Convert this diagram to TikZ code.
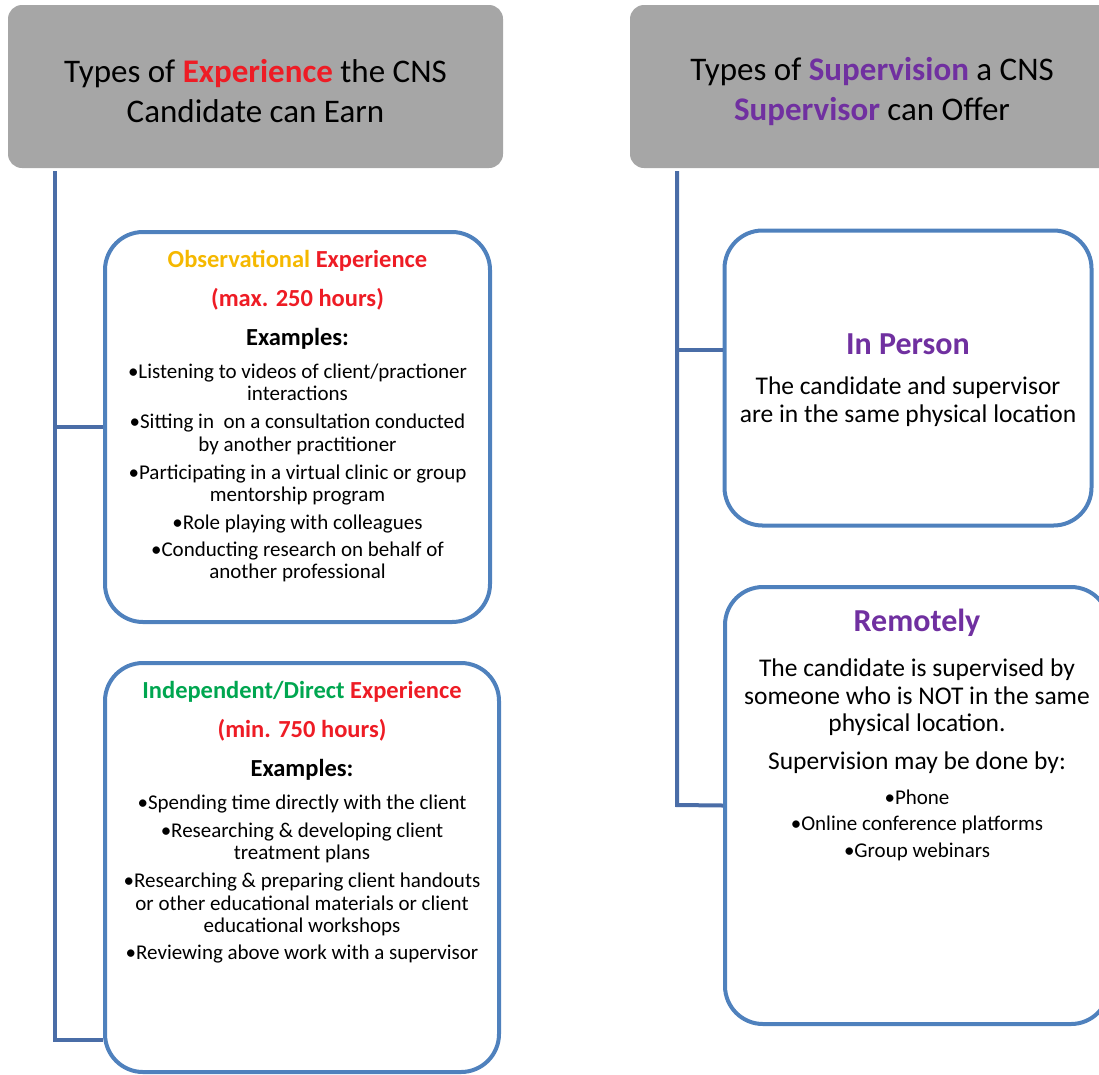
\documentclass[tikz,border=0pt]{standalone}
\usepackage{fontspec}
\setmainfont{Carlito}
\usetikzlibrary{positioning}

\definecolor{hdgray}{HTML}{A6A6A6}
\definecolor{boxblue}{HTML}{4F81BD}
\definecolor{linkblue}{HTML}{4A6DA7}
\definecolor{expred}{HTML}{EE1C25}
\definecolor{obsgold}{HTML}{F5B800}
\definecolor{indgreen}{HTML}{00A650}
\definecolor{supurple}{HTML}{7030A0}

\tikzset{
  hdbox/.style={fill=hdgray, rounded corners=14pt, minimum width=495pt,
    minimum height=163pt, inner sep=0pt},
  hdtxt/.style={align=center, inner sep=0pt, yshift=-5pt,
    font=\fontsize{33}{40}\selectfont},
  exbox/.style={draw=boxblue, line width=4pt, rounded corners=38pt, inner sep=0pt},
  link/.style={draw=linkblue, line width=4pt},
  headtxt/.style={align=center, inner sep=0pt, font=\fontsize{24.5}{39}\selectfont\bfseries},
  listtxt/.style={align=center, inner sep=0pt, font=\fontsize{21}{22.5}\selectfont},
  bigtxt/.style={align=center, inner sep=0pt, font=\fontsize{32}{36}\selectfont\bfseries, text=supurple},
  bodytxt/.style={align=center, inner sep=0pt, font=\fontsize{25.5}{27.5}\selectfont},
}

\begin{document}
\begin{tikzpicture}[x=1pt,y=-1pt]
  \useasboundingbox (0,0) rectangle (1099,1074);
  \clip (0,0) rectangle (1099,1074);

  % headers
  \node[hdbox] (hdL) at (255.5,86.5) {};
  \node[hdtxt] (hdLT) at (hdL.center)
    {Types of \textbf{\color{expred}Experience} the CNS\\Candidate can Earn};
  \node[hdbox, minimum width=484pt] (hdR) at (872,86.5) {};
  \node[hdtxt] (hdRT) at (hdR.center)
    {Types of \textbf{\color{supurple}Supervision} a CNS\\\textbf{\color{supurple}Supervisor} can Offer};

  % experience boxes
  \node[exbox, minimum width=385pt, minimum height=390pt] (obs) at (297.5,427) {};
  \node[headtxt, below=20pt of obs.north] (obsH)
    {{\color{obsgold}Observational} {\color{expred}Experience}\\
     {\color{expred}(max. 250 hours)}\\Examples:};
  \node[listtxt, below=14pt of obsH] (obsL)
    {•Listening to videos of client/practioner\\interactions\\[5.5pt]
     •Sitting in\ \ on a consultation conducted\\by another practitioner\\[5.5pt]
     •Participating in a virtual clinic or group\\mentorship program\\[5.5pt]
     •Role playing with colleagues\\[4pt]
     •Conducting research on behalf of\\another professional};

  \node[exbox, minimum width=394pt, minimum height=409pt] (ind) at (302,867.5) {};
  \node[headtxt, below=20pt of ind.north] (indH)
    {{\color{indgreen}Independent/Direct} {\color{expred}Experience}\\
     {\color{expred}(min. 750 hours)}\\Examples:};
  \node[listtxt, below=14pt of indH] (indL)
    {•Spending time directly with the client\\[5.5pt]
     •Researching \& developing client\\treatment plans\\[5.5pt]
     •Researching \& preparing client handouts\\or other educational materials or client\\educational workshops\\[4pt]
     •Reviewing above work with a supervisor};

  % supervision boxes
  \node[exbox, minimum width=367pt, minimum height=295pt] (inp) at (908,378) {};
  \node[bigtxt, below=105pt of inp.north] (inpH) {In Person};
  \node[bodytxt, below=22pt of inpH] (inpB)
    {The candidate and supervisor\\are in the same physical location};

  \node[exbox, minimum width=384pt, minimum height=437pt] (rem) at (917,805.5) {};
  \node[bigtxt, below=24pt of rem.north] (remH) {Remotely};
  \node[bodytxt, below=22pt of remH] (remB)
    {The candidate is supervised by\\someone who is NOT in the same\\physical location.\\[10pt]
     Supervision may be done by:};
  \node[listtxt, below=16pt of remB, font=\fontsize{21}{26.5}\selectfont] (remL)
    {•Phone\\•Online conference platforms\\•Group webinars};

  % connectors
  \coordinate (jL) at (55,1040);
  \coordinate (jR) at (677,805);
  \coordinate (kR) at (677,350);
  \draw[link] ([yshift=-3pt]hdL.south -| jL) -- (jL) -- (jL -| ind.west);
  \draw[link] (jL |- obs.west) -- (obs.west);
  \draw[link] ([yshift=-3pt]hdR.south -| jR) -- (jR) -- (rem.west);
  \draw[link] (kR) -- (kR -| inp.west);
\end{tikzpicture}
\end{document}
